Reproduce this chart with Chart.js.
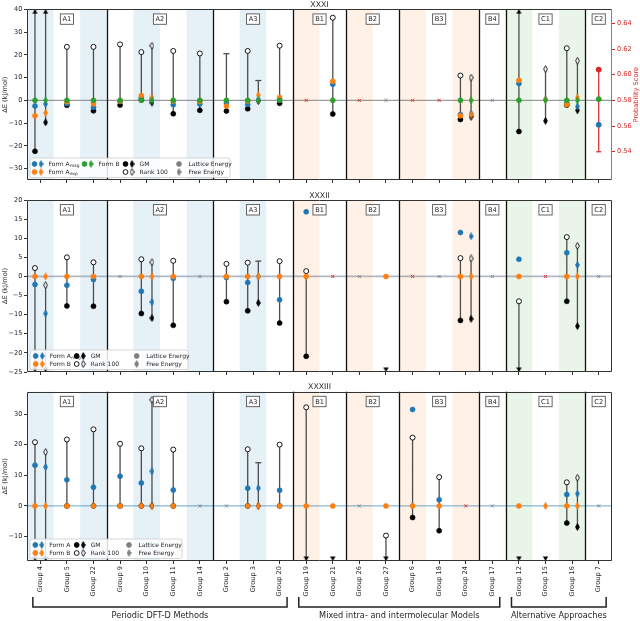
<!DOCTYPE html>
<html><head><meta charset="utf-8">
<script src="https://cdn.jsdelivr.net/npm/chart.js@4.4.1/dist/chart.umd.min.js"></script>
<style>
html,body{margin:0;padding:0;background:#fff;overflow:hidden;}
#wrap{position:relative;width:640px;height:621px;}
canvas{position:absolute;left:0;}
</style></head><body>
<div id="wrap">
<canvas id="c1" width="640" height="190" style="top:0;width:640px;height:190px"></canvas>
<canvas id="c2" width="640" height="190" style="top:190px;width:640px;height:190px"></canvas>
<canvas id="c3" width="640" height="241" style="top:380px;width:640px;height:241px"></canvas>
</div>
<script>
// ---------------- DATA ----------------
const groups = ['Group 4','Group 5','Group 22','Group 9','Group 10','Group 11','Group 14','Group 2','Group 3','Group 20','Group 19','Group 21','Group 26','Group 27','Group 6','Group 18','Group 24','Group 17','Group 12','Group 15','Group 16','Group 7'];
const sectionNames = ['A1','A2','A3','B1','B2','B3','B4','C1','C2'];
const sectionFirst = ['Group 4','Group 9','Group 2','Group 19','Group 26','Group 6','Group 17','Group 12','Group 7'];
const sectionLast  = ['Group 22','Group 14','Group 20','Group 21','Group 27','Group 24','Group 17','Group 16','Group 7'];
const categoryNames = ['Periodic DFT-D Methods','Mixed intra- and intermolecular Models','Alternative Approaches'];
const categoryFirst = ['Group 4','Group 19','Group 12'];
const categoryLast  = ['Group 20','Group 17','Group 7'];

// XXXI
const xxxi_group  = ['Group 4','Group 4','Group 5','Group 22','Group 9','Group 10','Group 10','Group 11','Group 14','Group 2','Group 3','Group 3','Group 20','Group 21','Group 24','Group 24','Group 12','Group 15','Group 16','Group 16'];
const xxxi_energy = ['L','F','L','L','L','L','F','L','L','L','L','F','L','L','L','F','L','F','L','F'];
const xxxi_formAmag = [-2.5,-1.6,-1.5,-3.1,-0.5,1.2,0.5,-1.9,-1.6,-1.2,-1.8,0.5,0.2,7.1,-6.2,-5.8,7.4,0.5,-1.3,-2.7];
const xxxi_formAexp = [-6.8,-5.5,-0.6,-1.5,-0.3,2.1,1.2,-0.3,-0.5,-2.5,-0.3,2.3,1.3,8.4,-6.8,-6.3,8.8,0.3,-1.8,1.2];
const xxxi_formB    = [0,0,0,0,0,0,0,0,0,0,0,0,0,0,0,0,0,0,0,0];
const xxxi_gm       = [-22.4,-9.7,-2.2,-4.6,-2.1,0.3,-1.0,-5.9,-4.4,-4.7,-3.7,-0.3,-1.3,-6.0,-8.4,-7.2,-13.7,-9.0,-2.1,-4.4];
const xxxi_rank100  = [55,55,23.5,23.5,24.6,21.2,24.0,21.7,20.6,20.5,21.7,8.7,24.0,36.3,10.9,10.0,55,13.7,22.9,17.4];
const xxxi_rank100Known = [1,1,1,1,1,1,1,1,1,0,1,0,1,1,1,1,1,1,1,1];
const xxxi_missing = ['Group 19','Group 26','Group 27','Group 6','Group 18','Group 17'];
const xxxi_missingFailed = [1,1,0,1,1,0];
const xxxi_yTicks = [-30,-20,-10,0,10,20,30,40];
const xxxi_probGroup = ['Group 7'];
const xxxi_probFormAmag = [0.561];
const xxxi_probFormB = [0.581];
const xxxi_probScore = [0.604];
const xxxi_probScoreLow = [0.54];
const xxxi_probTicks = [0.54,0.56,0.58,0.60,0.62,0.64];

// XXXII
const xxxii_group  = ['Group 4','Group 4','Group 5','Group 22','Group 10','Group 10','Group 11','Group 2','Group 3','Group 3','Group 20','Group 19','Group 27','Group 24','Group 24','Group 12','Group 16','Group 16'];
const xxxii_energy = ['L','F','L','L','L','F','L','L','L','F','L','L','L','L','F','L','L','F'];
const xxxii_formAmag = [-2.1,-9.7,-2.3,-0.8,-3.9,-6.7,-0.5,-0.3,-1.6,0.0,-6.1,16.9,null,11.5,10.5,4.5,6.2,3.0];
const xxxii_formB    = [0,0,0,0,0,0,0,0,0,0,0,0,0,0,0,0,0,0];
const xxxii_gm       = [-40,-40,-7.7,-7.8,-9.7,-10.9,-12.8,-6.6,-9.0,-6.9,-12.2,-20.9,-40,-11.5,-11.1,-40,-6.5,-13.0];
const xxxii_rank100  = [2.2,-2.3,5.0,3.7,4.5,3.7,4.1,3.3,3.6,4.0,4.0,1.4,null,4.8,4.7,-6.5,10.3,8.0];
const xxxii_rank100Known = [1,1,1,1,1,1,1,1,1,0,1,1,1,1,1,1,1,1];
const xxxii_missing = ['Group 9','Group 14','Group 21','Group 26','Group 6','Group 18','Group 17','Group 15','Group 7'];
const xxxii_missingFailed = [0,0,1,0,1,0,0,1,0];
const xxxii_yTicks = [-25,-20,-15,-10,-5,0,5,10,15,20];

// XXXIII
const xxxiii_group  = ['Group 4','Group 4','Group 5','Group 22','Group 9','Group 10','Group 10','Group 11','Group 3','Group 3','Group 20','Group 19','Group 21','Group 27','Group 6','Group 18','Group 12','Group 15','Group 16','Group 16'];
const xxxiii_energy = ['L','F','L','L','L','L','F','L','L','F','L','L','L','L','L','L','L','F','L','F'];
const xxxiii_formA  = [13.3,12.7,8.5,6.1,9.7,7.5,11.3,5.2,5.8,5.8,5.1,null,null,null,31.5,2.0,null,null,3.7,4.0];
const xxxiii_formB  = [0,0,0,0,0,0,0,0,0,0,0,0,0,0,0,0,0,0,0,0];
const xxxiii_gm     = [-40,-40,0,0,0,0,0,0,0,0,0,-40,-40,-40,-3.8,-8.1,-40,-40,-5.6,-6.9];
const xxxiii_rank100 = [20.8,17.6,21.7,25.0,20.3,18.8,34.7,18.4,18.5,14.1,20.0,32.2,null,-9.7,22.3,9.4,null,null,7.7,9.2];
const xxxiii_rank100Known = [1,1,1,1,1,1,1,1,1,0,1,1,1,1,1,1,1,1,1,1];
const xxxiii_missing = ['Group 14','Group 2','Group 26','Group 24','Group 17','Group 7'];
const xxxiii_missingFailed = [0,0,0,1,0,0];
const xxxiii_yTicks = [-10,0,10,20,30];

// ---------------- STYLE / HELPERS ----------------
Chart.defaults.font.family = "'DejaVu Sans', sans-serif";
Chart.defaults.color = '#262626';
const C = {blue:'#1f77b4', orange:'#ff7f0e', green:'#2ca02c', red:'#d62728', gray:'#808080', black:'#000000', line:'#4d4d4d', open:'#ffffff'};
const FONT = "'DejaVu Sans', sans-serif";

const imgCache = {};
function diamondImg(fill, stroke) {
  const key = 'd' + fill + stroke;
  if (imgCache[key]) return imgCache[key];
  const c = document.createElement('canvas'); c.width = 5; c.height = 8;
  const g = c.getContext('2d');
  g.beginPath(); g.moveTo(2.5,0.6); g.lineTo(4.4,4); g.lineTo(2.5,7.4); g.lineTo(0.6,4); g.closePath();
  g.fillStyle = fill; g.fill(); g.lineWidth = 0.85; g.strokeStyle = stroke; g.stroke();
  imgCache[key] = c; return c;
}
function arrowImg(up) {
  const key = 'a' + up;
  if (imgCache[key]) return imgCache[key];
  const c = document.createElement('canvas'); c.width = 7; c.height = 10;
  const g = c.getContext('2d');
  g.beginPath();
  if (up) { g.moveTo(3.5,5); g.lineTo(6.2,9.6); g.lineTo(0.8,9.6); }
  else { g.moveTo(3.5,5); g.lineTo(6.2,0.4); g.lineTo(0.8,0.4); }
  g.closePath(); g.fillStyle = '#000'; g.fill();
  imgCache[key] = c; return c;
}

function columnX(groupArr, energyArr) {
  return groupArr.map((g, k) => {
    const i = groups.indexOf(g);
    const both = groupArr.some((g2, j) => g2 === g && energyArr[j] !== energyArr[k]);
    return i + (both ? (energyArr[k] === 'L' ? -0.2 : 0.2) : 0);
  });
}

function buildDatasets(p) {
  const xs = columnX(p.group, p.energy);
  const clamp = v => Math.max(p.ymin, Math.min(p.ymax, v));
  const inR = v => v !== null && v >= p.ymin && v <= p.ymax;
  const ds = [];
  const lineData = [];
  xs.forEach((x, k) => {
    const a = p.gm[k], b = p.rank100[k];
    if (a !== null && b !== null) lineData.push({x, y: clamp(a)}, {x, y: clamp(b)}, {x, y: null});
  });
  ds.push({type:'line', data: lineData, borderColor: C.line, borderWidth: 1.3, pointRadius: 0, spanGaps: false, order: 20, clip: false, yAxisID: 'y'});

  function series(vals, fill, stroke, order, known) {
    ['L','F'].forEach(e => {
      const data = [];
      xs.forEach((x, k) => {
        const v = vals[k];
        if (p.energy[k] === e && inR(v) && (!known || known[k])) data.push({x, y: v});
      });
      if (!data.length) return;
      ds.push({type:'scatter', data, yAxisID:'y', order, clip:false,
        pointStyle: e === 'L' ? 'circle' : diamondImg(fill, stroke),
        pointRadius: 2.5, pointBackgroundColor: fill, pointBorderColor: stroke,
        pointBorderWidth: fill === C.open ? 0.9 : 0.6});
    });
  }
  series(p.gm, C.black, C.black, 6);
  series(p.rank100, C.open, C.black, 6, p.known);
  const dash = [];
  xs.forEach((x, k) => { if (!p.known[k] && inR(p.rank100[k])) dash.push({x, y: p.rank100[k]}); });
  if (dash.length) ds.push({type:'scatter', data: dash, yAxisID:'y', order: 6, clip:false, pointStyle:'line', pointRadius: 3, pointBorderColor: C.line, pointBorderWidth: 1.3});
  const up = [], down = [];
  xs.forEach((x, k) => {
    [p.gm[k], p.rank100[k]].forEach(v => {
      if (v === null) return;
      if (v > p.ymax) up.push({x, y: p.ymax});
      else if (v < p.ymin) down.push({x, y: p.ymin});
    });
  });
  if (up.length) ds.push({type:'scatter', data: up, yAxisID:'y', order: 5, clip:false, pointStyle: arrowImg(true), pointRadius: 3});
  if (down.length) ds.push({type:'scatter', data: down, yAxisID:'y', order: 5, clip:false, pointStyle: arrowImg(false), pointRadius: 3});
  p.forms.forEach(f => series(f.vals, f.color, f.color, f.order));
  [0, 1].forEach(fl => {
    const data = [];
    p.missing.forEach((g, k) => { if (p.failed[k] === fl) data.push({x: groups.indexOf(g), y: 0}); });
    if (data.length) ds.push({type:'scatter', data, yAxisID:'y', order: 0, clip:false, pointStyle:'crossRot', pointRadius: 2.2, pointBorderWidth: 0.9, pointBorderColor: fl ? C.red : C.gray, pointBackgroundColor: 'rgba(0,0,0,0)'});
  });
  if (p.prob) {
    const px = xxxi_probGroup.map(g => groups.indexOf(g));
    const rl = [];
    px.forEach((x, k) => rl.push({x, y: xxxi_probScore[k]}, {x, y: xxxi_probScoreLow[k]}, {x, y: null}));
    ds.push({type:'line', data: rl, yAxisID:'y2', borderColor: C.red, borderWidth: 1.2, pointRadius: 0, order: 20, clip:false});
    ds.push({type:'scatter', data: px.map((x,k)=>({x, y: xxxi_probScoreLow[k]})), yAxisID:'y2', order: 4, clip:false, pointStyle:'line', pointRadius: 2.5, pointBorderColor: C.red, pointBorderWidth: 1.2});
    ds.push({type:'scatter', data: px.map((x,k)=>({x, y: xxxi_probScore[k]})), yAxisID:'y2', order: 4, clip:false, pointRadius: 2.5, pointBackgroundColor: C.red, pointBorderColor: C.red});
    ds.push({type:'scatter', data: px.map((x,k)=>({x, y: xxxi_probFormAmag[k]})), yAxisID:'y2', order: 3, clip:false, pointRadius: 2.5, pointBackgroundColor: C.blue, pointBorderColor: C.blue});
    ds.push({type:'scatter', data: px.map((x,k)=>({x, y: xxxi_probFormB[k]})), yAxisID:'y2', order: 1, clip:false, pointRadius: 2.5, pointBackgroundColor: C.green, pointBorderColor: C.green});
  }
  return ds;
}

function drawMarker(ctx, shape, x, y, fill, stroke) {
  if (shape === 'c') {
    ctx.beginPath(); ctx.arc(x, y, 2.4, 0, Math.PI*2);
    ctx.fillStyle = fill; ctx.fill(); ctx.lineWidth = 0.9; ctx.strokeStyle = stroke; ctx.stroke();
  } else {
    const img = diamondImg(fill, stroke);
    ctx.drawImage(img, x - img.width/2, y - img.height/2);
  }
}

const bandColors = {A:'rgba(31,119,180,0.11)', B:'rgba(255,127,14,0.11)', C:'rgba(44,160,44,0.11)'};
const secRange = sectionNames.map((n,k) => [groups.indexOf(sectionFirst[k]), groups.indexOf(sectionLast[k])]);

const decor = {
  id: 'decor',
  beforeDatasetsDraw(chart, args, opts) {
    const p = opts.panel; const ctx = chart.ctx; const a = chart.chartArea;
    const xs = chart.scales.x, ys = chart.scales.y;
    ctx.save();
    groups.forEach((g, i) => {
      if (i % 2) return;
      const s = secRange.findIndex(r => i >= r[0] && i <= r[1]);
      ctx.fillStyle = bandColors[sectionNames[s][0]];
      const x1 = xs.getPixelForValue(i - 0.5), x2 = xs.getPixelForValue(i + 0.5);
      ctx.fillRect(x1, a.top, x2 - x1, a.bottom - a.top);
    });
    const y0 = ys.getPixelForValue(0);
    ctx.strokeStyle = p.zero.color; ctx.lineWidth = p.zero.width;
    ctx.beginPath(); ctx.moveTo(a.left, y0); ctx.lineTo(a.right, y0); ctx.stroke();
    ctx.strokeStyle = '#111'; ctx.lineWidth = 1.3;
    secRange.forEach((r, k) => {
      if (k === secRange.length - 1) return;
      const x = Math.round(xs.getPixelForValue(r[1] + 0.5)) + 0.5;
      ctx.beginPath(); ctx.moveTo(x, a.top); ctx.lineTo(x, a.bottom); ctx.stroke();
    });
    ctx.restore();
  },
  afterDatasetsDraw(chart, args, opts) {
    const p = opts.panel; const ctx = chart.ctx; const a = chart.chartArea;
    const xs = chart.scales.x;
    ctx.save();
    ctx.font = '6.6px ' + FONT; ctx.textAlign = 'center'; ctx.textBaseline = 'middle';
    secRange.forEach((r, k) => {
      const cx = xs.getPixelForValue((r[0] + r[1]) / 2);
      const cy = a.top + 9.8;
      const w = ctx.measureText(sectionNames[k]).width;
      ctx.fillStyle = '#fff'; ctx.fillRect(cx - w/2 - 2.2, cy - 5.2, w + 4.4, 10.4);
      ctx.strokeStyle = '#555'; ctx.lineWidth = 0.9; ctx.strokeRect(cx - w/2 - 2.2, cy - 5.2, w + 4.4, 10.4);
      ctx.fillStyle = '#262626'; ctx.fillText(sectionNames[k], cx, cy + 0.3);
    });
    ctx.lineWidth = 1; ctx.strokeStyle = '#333';
    const L = Math.round(a.left) + 0.5, R = Math.round(a.right) - 0.5, T = Math.round(a.top) + 0.5, B = Math.round(a.bottom) - 0.5;
    ctx.beginPath(); ctx.moveTo(R, T); ctx.lineTo(L, T); ctx.lineTo(L, B); ctx.lineTo(R, B); ctx.stroke();
    ctx.strokeStyle = p.prob ? 'rgba(214,39,40,0.75)' : '#333';
    ctx.beginPath(); ctx.moveTo(R, T); ctx.lineTo(R, B); ctx.stroke();
    const lg = p.legend; const bx = a.left + 3, bh = 19.5, by = a.bottom - 2.5 - bh;
    ctx.fillStyle = 'rgba(255,255,255,0.85)'; ctx.strokeStyle = '#cccccc'; ctx.lineWidth = 0.8;
    ctx.beginPath(); ctx.roundRect(bx, by, lg.width, bh, 2); ctx.fill(); ctx.stroke();
    lg.entries.forEach(en => {
      const y = by + (en.row ? 14 : 6);
      let tx;
      if (en.m.length === 2) {
        drawMarker(ctx, 'c', bx + en.dx, y, en.m[0], en.m[1]);
        drawMarker(ctx, 'd', bx + en.dx + 6.5, y, en.m[0], en.m[1]);
        tx = bx + en.dx + 14;
      } else {
        drawMarker(ctx, en.shape, bx + en.dx, y, en.m[0], en.m[0]);
        tx = bx + en.dx + 9.5;
      }
      ctx.fillStyle = '#262626'; ctx.textAlign = 'left'; ctx.textBaseline = 'middle';
      ctx.font = '6px ' + FONT; ctx.fillText(en.text, tx, y);
      if (en.sub) {
        const w = ctx.measureText(en.text).width;
        ctx.font = '4.3px ' + FONT; ctx.fillText(en.sub, tx + w + 0.3, y + 1.9);
      }
    });
    ctx.fillStyle = '#262626'; ctx.font = '7.8px ' + FONT; ctx.textAlign = 'center'; ctx.textBaseline = 'alphabetic';
    ctx.fillText(p.title, (a.left + a.right) / 2, a.top - 2.5);
    ctx.save(); ctx.translate(5.5, (a.top + a.bottom) / 2); ctx.rotate(-Math.PI/2);
    ctx.font = '6.6px ' + FONT; ctx.textBaseline = 'middle'; ctx.fillStyle = '#262626';
    ctx.fillText('ΔE (kJ/mol)', 0, 0); ctx.restore();
    if (p.prob) {
      ctx.save(); ctx.translate(636.5, (a.top + a.bottom) / 2); ctx.rotate(-Math.PI/2);
      ctx.font = '6.6px ' + FONT; ctx.textBaseline = 'middle'; ctx.fillStyle = C.red;
      ctx.fillText('Probability Score', 0, 0); ctx.restore();
    }
    if (p.brackets) {
      const yT = 217, yB = 227;
      ctx.strokeStyle = '#222'; ctx.lineWidth = 1.5;
      categoryNames.forEach((n, k) => {
        const x1 = xs.getPixelForValue(groups.indexOf(categoryFirst[k]) - 0.28);
        const x2 = xs.getPixelForValue(groups.indexOf(categoryLast[k]) + 0.28);
        ctx.beginPath(); ctx.moveTo(x1, yT); ctx.lineTo(x1, yB); ctx.lineTo(x2, yB); ctx.lineTo(x2, yT); ctx.stroke();
        ctx.fillStyle = '#262626'; ctx.font = '8.2px ' + FONT; ctx.textAlign = 'center'; ctx.textBaseline = 'middle';
        ctx.fillText(n, (x1 + x2) / 2, 236);
      });
    }
    ctx.restore();
  }
};

const minusFmt = v => (v < 0 ? '\u2212' : '') + Math.abs(v);

const panels = [
  {id:'c1', title:'XXXI', ymin:-35, ymax:40, ticks:xxxi_yTicks, padTop:9.3, xHeight:10, padBottom:0, showX:false, prob:true,
   group:xxxi_group, energy:xxxi_energy, gm:xxxi_gm, rank100:xxxi_rank100, known:xxxi_rank100Known,
   forms:[{vals:xxxi_formAmag,color:C.blue,order:3},{vals:xxxi_formAexp,color:C.orange,order:2},{vals:xxxi_formB,color:C.green,order:1}],
   missing:xxxi_missing, failed:xxxi_missingFailed, zero:{color:'rgba(120,120,120,0.9)', width:1},
   legend:{width:200, entries:[
     {dx:4.5,row:0,m:[C.blue,C.blue],text:'Form A',sub:'mag'},
     {dx:4.5,row:1,m:[C.orange,C.orange],text:'Form A',sub:'exp'},
     {dx:54.5,row:0,m:[C.green,C.green],text:'Form B'},
     {dx:95.5,row:0,m:[C.black,C.black],text:'GM'},
     {dx:95.5,row:1,m:[C.open,C.black],text:'Rank 100'},
     {dx:149,row:0,shape:'c',m:[C.gray],text:'Lattice Energy'},
     {dx:149,row:1,shape:'d',m:[C.gray],text:'Free Energy'}]}},
  {id:'c2', title:'XXXII', ymin:-25, ymax:20, ticks:xxxii_yTicks, padTop:10, xHeight:8, padBottom:0, showX:false, prob:false,
   group:xxxii_group, energy:xxxii_energy, gm:xxxii_gm, rank100:xxxii_rank100, known:xxxii_rank100Known,
   forms:[{vals:xxxii_formAmag,color:C.blue,order:3},{vals:xxxii_formB,color:C.orange,order:1}],
   missing:xxxii_missing, failed:xxxii_missingFailed, zero:{color:'rgba(150,160,172,0.75)', width:1.8},
   legend:{width:158, entries:[
     {dx:5.7,row:0,m:[C.blue,C.blue],text:'Form A',sub:'mag'},
     {dx:5.7,row:1,m:[C.orange,C.orange],text:'Form B'},
     {dx:46.7,row:0,m:[C.black,C.black],text:'GM'},
     {dx:46.7,row:1,m:[C.open,C.black],text:'Rank 100'},
     {dx:106.7,row:0,shape:'c',m:[C.gray],text:'Lattice Energy'},
     {dx:106.7,row:1,shape:'d',m:[C.gray],text:'Free Energy'}]}},
  {id:'c3', title:'XXXIII', ymin:-18, ymax:37.3, ticks:xxxiii_yTicks, padTop:11.7, xHeight:40, padBottom:20, showX:true, prob:false, brackets:true,
   group:xxxiii_group, energy:xxxiii_energy, gm:xxxiii_gm, rank100:xxxiii_rank100, known:xxxiii_rank100Known,
   forms:[{vals:xxxiii_formA,color:C.blue,order:3},{vals:xxxiii_formB,color:C.orange,order:1}],
   missing:xxxiii_missing, failed:xxxiii_missingFailed, zero:{color:'rgba(31,119,180,0.65)', width:1},
   legend:{width:152, entries:[
     {dx:5.3,row:0,m:[C.blue,C.blue],text:'Form A'},
     {dx:5.3,row:1,m:[C.orange,C.orange],text:'Form B'},
     {dx:46.7,row:0,m:[C.black,C.black],text:'GM'},
     {dx:46.7,row:1,m:[C.open,C.black],text:'Rank 100'},
     {dx:99,row:0,shape:'c',m:[C.gray],text:'Lattice Energy'},
     {dx:99,row:1,shape:'d',m:[C.gray],text:'Free Energy'}]}}
];

panels.forEach(p => {
  const scales = {
    x: {type:'linear', min:-0.5, max:21.5,
      afterBuildTicks: s => { s.ticks = groups.map((g, i) => ({value: i})); },
      afterFit: s => { s.height = p.xHeight; },
      ticks: {display: p.showX, autoSkip:false, minRotation:90, maxRotation:90, padding:2, font:{size:6.6}, color:'#262626',
        callback: (v) => groups[Math.round(v)]},
      grid: {drawOnChartArea:false, drawTicks:true, tickLength:3, color:'#333'},
      border: {display:false}},
    y: {type:'linear', position:'left', min:p.ymin, max:p.ymax,
      afterBuildTicks: s => { s.ticks = p.ticks.map(v => ({value: v})); },
      afterFit: s => { s.width = 27; },
      ticks: {font:{size:6.6}, padding:1.5, color:'#262626', callback: v => minusFmt(v)},
      grid: {drawOnChartArea:false, drawTicks:true, tickLength:3, color:'#333'},
      border: {display:false}}
  };
  if (p.prob) {
    scales.y2 = {type:'linear', position:'right', min:0.518, max:0.651,
      afterBuildTicks: s => { s.ticks = xxxi_probTicks.map(v => ({value: v})); },
      afterFit: s => { s.width = 28; },
      ticks: {font:{size:6.6}, padding:2, color:C.red, callback: v => Number(v).toFixed(2)},
      grid: {drawOnChartArea:false, drawTicks:true, tickLength:3, color:C.red},
      border: {display:false}};
  }
  new Chart(document.getElementById(p.id), {
    type: 'scatter',
    data: {datasets: buildDatasets(p)},
    options: {
      responsive:false, animation:false, events:[],
      layout: {padding: {top:p.padTop, bottom:p.padBottom, left:0, right: p.prob ? 0 : 28}},
      plugins: {legend:{display:false}, tooltip:{enabled:false}, decor:{panel:p}},
      scales
    },
    plugins: [decor]
  });
});
</script>
</body></html>
